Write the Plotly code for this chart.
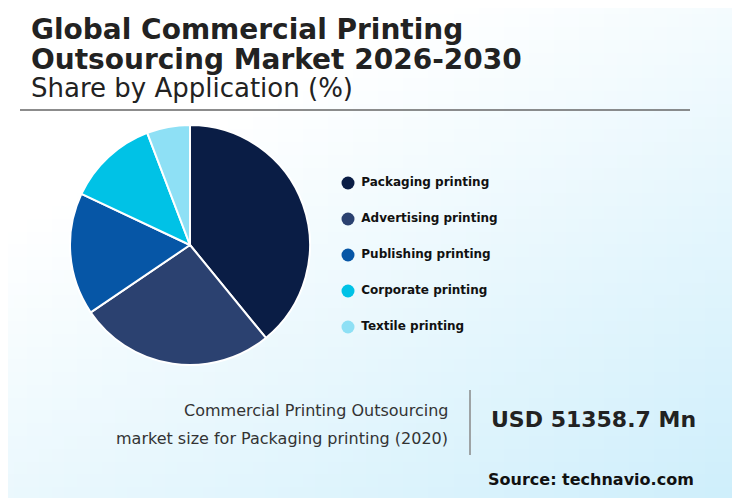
import plotly.graph_objects as go
import numpy as np

labels = ["Packaging printing", "Advertising printing", "Publishing printing", "Corporate printing", "Textile printing"]
shares = [39.1, 26.4, 16.5, 12.2, 5.8]
colors = ["#0a1d45", "#2b4170", "#0656a6", "#00c2e6", "#8ee0f5"]

W, H = 740, 498
O = 8  # page offset compensation


def px(x):
    return (x - O) / W


def py(y):
    return 1 - (y - O) / H


fig = go.Figure()

gx = np.linspace(0, 1, 60)
gy = np.linspace(0, 1, 40)
Z = np.array([[max(0, (x * 0.6 + (1 - y) * 0.8) - 0.35) for x in gx] for y in gy])
fig.add_trace(go.Heatmap(x=gx, y=gy, z=Z, xaxis="x2", yaxis="y2", showscale=False,
                         colorscale=[[0, "#ffffff"], [1, "#cdeefb"]], hoverinfo="skip"))

fig.add_trace(go.Pie(labels=labels, values=shares, sort=False, direction="clockwise", rotation=0,
                     marker=dict(colors=colors, line=dict(color="white", width=2)),
                     textinfo="none", showlegend=False,
                     domain=dict(x=[px(70), px(310)], y=[py(365), py(125)])))

ly = [183, 219, 255, 291, 327]
fig.add_trace(go.Scatter(x=[348 - O] * 5, y=[v - O for v in ly], mode="markers+text", xaxis="x3", yaxis="y3",
                         marker=dict(size=13, color=colors), text=[" " + l for l in labels],
                         textposition="middle right", showlegend=False, hoverinfo="skip",
                         textfont=dict(family="DejaVu Sans", size=12, color="#111111", weight="bold")))

ax = dict(visible=False, range=[0, 1], fixedrange=True)
fig.update_layout(
    width=W, height=H, margin=dict(l=0, r=0, t=0, b=0),
    paper_bgcolor="white", plot_bgcolor="rgba(0,0,0,0)",
    xaxis2=dict(ax, domain=[0, 1]), yaxis2=dict(ax, domain=[0, 1]),
    xaxis3=dict(visible=False, range=[0, W], domain=[0, 1]),
    yaxis3=dict(visible=False, range=[H, 0], domain=[0, 1]),
    shapes=[
        dict(type="line", xref="paper", yref="paper", x0=px(20), x1=px(690), y0=py(110), y1=py(110),
             line=dict(color="#666666", width=1.5)),
        dict(type="line", xref="paper", yref="paper", x0=px(470), x1=px(470), y0=py(390), y1=py(455),
             line=dict(color="#888888", width=1.5)),
    ],
    annotations=[
        dict(text="<b>Global Commercial Printing</b>", x=px(29), y=py(30), xref="paper", yref="paper",
             xanchor="left", yanchor="middle", showarrow=False,
             font=dict(family="DejaVu Sans", size=28, color="#222222")),
        dict(text="<b>Outsourcing Market 2026-2030</b>", x=px(29), y=py(60), xref="paper", yref="paper",
             xanchor="left", yanchor="middle", showarrow=False,
             font=dict(family="DejaVu Sans", size=28, color="#222222")),
        dict(text="Share by Application (%)", x=px(29), y=py(88), xref="paper", yref="paper",
             xanchor="left", yanchor="middle", showarrow=False,
             font=dict(family="DejaVu Sans", size=26, color="#222222")),
        dict(text="Commercial Printing Outsourcing", x=px(450), y=py(410), xref="paper", yref="paper",
             xanchor="right", yanchor="middle", showarrow=False,
             font=dict(family="DejaVu Sans", size=16, color="#333333")),
        dict(text="market size for Packaging printing (2020)", x=px(450), y=py(438), xref="paper", yref="paper",
             xanchor="right", yanchor="middle", showarrow=False,
             font=dict(family="DejaVu Sans", size=16, color="#333333")),
        dict(text="<b>USD 51358.7 Mn</b>", x=px(489), y=py(419), xref="paper", yref="paper",
             xanchor="left", yanchor="middle", showarrow=False,
             font=dict(family="DejaVu Sans", size=22, color="#222222")),
        dict(text="<b>Source: technavio.com</b>", x=px(696), y=py(479), xref="paper", yref="paper",
             xanchor="right", yanchor="middle", showarrow=False,
             font=dict(family="DejaVu Sans", size=16, color="#111111")),
    ],
)
fig.write_html("out.html")
